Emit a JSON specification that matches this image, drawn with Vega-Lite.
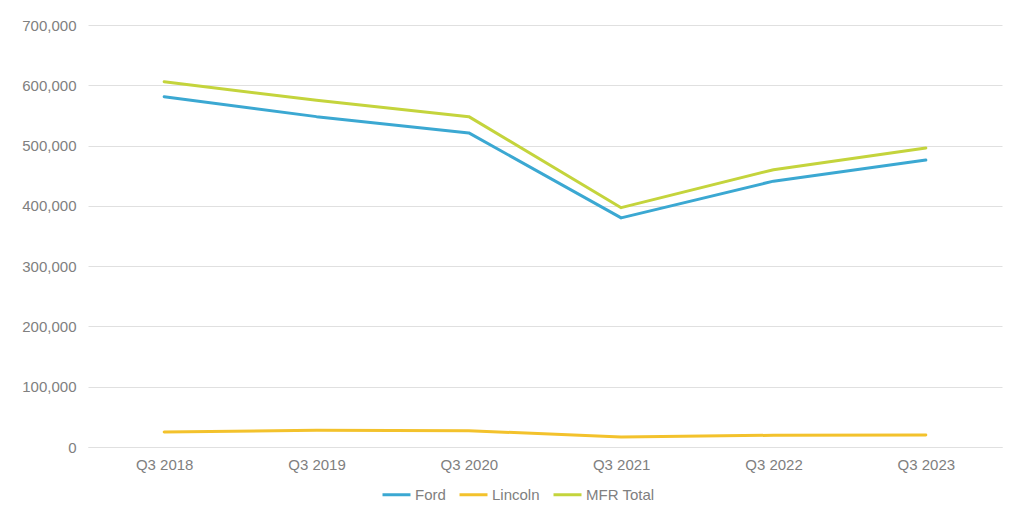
{
  "$schema": "https://vega.github.io/schema/vega-lite/v6.json",
  "width": 914,
  "height": 422,
  "autosize": {"type": "none"},
  "padding": {"left": 88, "top": 25, "right": 22, "bottom": 71},
  "background": "white",
  "config": {
    "view": {"stroke": null},
    "font": "Liberation Sans"
  },
  "data": {
    "values": [
      {"quarter": "Q3 2018", "series": "Ford", "value": 581000},
      {"quarter": "Q3 2019", "series": "Ford", "value": 548000},
      {"quarter": "Q3 2020", "series": "Ford", "value": 521000},
      {"quarter": "Q3 2021", "series": "Ford", "value": 380000},
      {"quarter": "Q3 2022", "series": "Ford", "value": 441000},
      {"quarter": "Q3 2023", "series": "Ford", "value": 476000},
      {"quarter": "Q3 2018", "series": "Lincoln", "value": 25000},
      {"quarter": "Q3 2019", "series": "Lincoln", "value": 27700},
      {"quarter": "Q3 2020", "series": "Lincoln", "value": 27000},
      {"quarter": "Q3 2021", "series": "Lincoln", "value": 16500},
      {"quarter": "Q3 2022", "series": "Lincoln", "value": 19500},
      {"quarter": "Q3 2023", "series": "Lincoln", "value": 20000},
      {"quarter": "Q3 2018", "series": "MFR Total", "value": 606000},
      {"quarter": "Q3 2019", "series": "MFR Total", "value": 575000},
      {"quarter": "Q3 2020", "series": "MFR Total", "value": 548000},
      {"quarter": "Q3 2021", "series": "MFR Total", "value": 397000},
      {"quarter": "Q3 2022", "series": "MFR Total", "value": 460000},
      {"quarter": "Q3 2023", "series": "MFR Total", "value": 496000}
    ]
  },
  "mark": {"type": "line", "strokeWidth": 3, "strokeCap": "round", "strokeJoin": "round"},
  "encoding": {
    "x": {
      "field": "quarter",
      "type": "ordinal",
      "scale": {"type": "point", "padding": 0.5},
      "axis": {
        "title": null,
        "labelAngle": 0,
        "labelFontSize": 15,
        "labelColor": "#808080",
        "labelPadding": 10,
        "ticks": false,
        "domain": true,
        "domainColor": "#E0E0E0",
        "grid": false
      }
    },
    "y": {
      "field": "value",
      "type": "quantitative",
      "scale": {"domain": [0, 700000], "nice": false},
      "axis": {
        "title": null,
        "values": [0, 100000, 200000, 300000, 400000, 500000, 600000, 700000],
        "format": ",d",
        "labelFontSize": 15,
        "labelColor": "#808080",
        "labelPadding": 12,
        "ticks": false,
        "domain": false,
        "grid": true,
        "gridColor": "#E0E0E0",
        "gridWidth": 1
      }
    },
    "color": {
      "field": "series",
      "type": "nominal",
      "scale": {"domain": ["Ford", "Lincoln", "MFR Total"], "range": ["#3BA8D2", "#F3C22C", "#C4D43C"]},
      "legend": {
        "title": null,
        "orient": "none",
        "legendX": 293,
        "legendY": 454,
        "direction": "horizontal",
        "symbolType": "stroke",
        "symbolSize": 784,
        "symbolStrokeWidth": 3,
        "labelFontSize": 15,
        "labelColor": "#808080",
        "labelOffset": 3,
        "columnPadding": 7
      }
    }
  }
}
